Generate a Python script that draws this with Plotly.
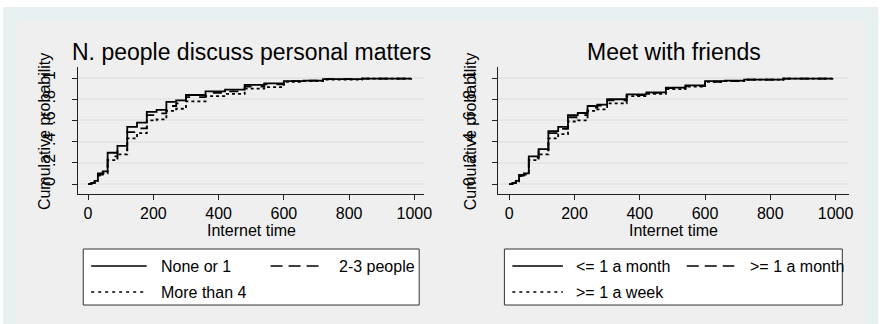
import plotly.graph_objects as go

# ---------------- data ----------------
time_steps = [0, 10, 20, 30, 45, 60, 90, 120, 150, 180, 210, 240, 270, 300,
              360, 420, 480, 540, 600, 660, 720, 840, 990]

# Left panel: N. people discuss personal matters
none_or_1 = [0.0, 0.01, 0.03, 0.10, 0.12, 0.295, 0.36, 0.54, 0.58, 0.68, 0.70, 0.775,
             0.79, 0.84, 0.875, 0.89, 0.935, 0.95, 0.97, 0.975, 0.99, 0.995, 1.0]
two_three = [0.0, 0.01, 0.025, 0.09, 0.11, 0.26, 0.32, 0.49, 0.525, 0.65, 0.667, 0.736,
             0.76, 0.82, 0.86, 0.875, 0.92, 0.94, 0.97, 0.975, 0.99, 0.995, 1.0]
more_than_4 = [0.0, 0.01, 0.02, 0.08, 0.10, 0.225, 0.28, 0.43, 0.48, 0.60, 0.61, 0.69,
               0.71, 0.78, 0.83, 0.85, 0.90, 0.915, 0.965, 0.97, 0.985, 0.995, 1.0]

# Right panel: Meet with friends
le_month = [0.0, 0.01, 0.03, 0.085, 0.10, 0.26, 0.33, 0.50, 0.54, 0.65, 0.67, 0.736,
            0.75, 0.80, 0.845, 0.865, 0.91, 0.93, 0.97, 0.975, 0.985, 0.995, 1.0]
ge_month = [0.0, 0.01, 0.028, 0.08, 0.095, 0.25, 0.32, 0.48, 0.52, 0.63, 0.65, 0.72,
            0.74, 0.79, 0.84, 0.86, 0.905, 0.925, 0.965, 0.97, 0.985, 0.995, 1.0]
ge_week = [0.0, 0.01, 0.025, 0.075, 0.09, 0.225, 0.28, 0.43, 0.47, 0.59, 0.60, 0.69,
           0.705, 0.76, 0.83, 0.85, 0.895, 0.92, 0.965, 0.97, 0.985, 0.995, 1.0]

left_names = ["None or 1", "2-3 people", "More than 4"]
right_names = ["<= 1 a month", ">= 1 a month", ">= 1 a week"]
titles = ["N. people discuss personal matters", "Meet with friends"]
x_ticks = [0, 200, 400, 600, 800, 1000]
y_ticks = [0, 0.2, 0.4, 0.6, 0.8, 1]
y_ticktext = ["0", ".2", ".4", ".6", ".8", "1"]
x_title = "Internet time"
y_title = "Cumulative probability"

# ---------------- figure ----------------
W, H = 886, 324
FONT = "Liberation Sans, Arial, Helvetica, sans-serif"
dashes = ["solid", "dash", "dot"]


def px(x):
    return x / W


def py(y):
    return 1 - y / H


fig = go.Figure()

panels = [
    ("x", "y", [none_or_1, two_three, more_than_4], left_names),
    ("x2", "y2", [le_month, ge_month, ge_week], right_names),
]
for xa, ya, series, names in panels:
    for s, name, d in zip(series, names, dashes):
        fig.add_trace(go.Scatter(
            x=time_steps, y=s, mode="lines", name=name, xaxis=xa, yaxis=ya,
            line=dict(color="black", width=1.8, dash=d, shape="hv"),
            showlegend=False, hoverinfo="skip"))

# plot-area geometry (pixels)
areas = [(79, 428, 67, 194), (503, 857, 67, 194)]
xranges = [[-30, 1030], [-33, 1042]]
yrange = [-0.094, 1.104]

axis_common = dict(showline=True, linecolor="#222", linewidth=1, ticks="outside",
                   ticklen=5, tickwidth=1, tickcolor="#222",
                   tickfont=dict(family=FONT, size=16, color="black"), zeroline=False)

layout = dict(
    width=W, height=H, margin=dict(l=0, r=0, t=0, b=0),
    paper_bgcolor="white", plot_bgcolor="white", showlegend=False,
    font=dict(family=FONT, color="black"),
)
for i, (x0, x1, y0, y1) in enumerate(areas):
    sfx = "" if i == 0 else "2"
    layout["xaxis" + sfx] = dict(domain=[px(x0), px(x1)], range=xranges[i],
                                 tickvals=x_ticks, showgrid=False,
                                 anchor="y" + sfx, **axis_common)
    layout["yaxis" + sfx] = dict(domain=[py(y1), py(y0)], range=yrange,
                                 tickvals=y_ticks, ticktext=y_ticktext, tickangle=-90,
                                 showgrid=True, gridcolor="#e6e6e6", gridwidth=1.5,
                                 anchor="x" + sfx, ticklabelstandoff=11, **axis_common)
fig.update_layout(**layout)

shapes = []
# outer light blue background and grey panel
shapes.append(dict(type="rect", xref="paper", yref="paper", x0=px(3), x1=1, y0=0, y1=py(7),
                   fillcolor="#e9f0f2", line=dict(width=0), layer="below"))
shapes.append(dict(type="rect", xref="paper", yref="paper", x0=px(17), x1=px(873), y0=0,
                   y1=py(20), fillcolor="#efefef", line=dict(width=0), layer="below"))

annotations = []
ytitle_x = [45, 475]
for i, (x0, x1, y0, y1) in enumerate(areas):
    cx = (x0 + x1) / 2
    annotations.append(dict(text=titles[i], x=px(cx), y=py(52), xref="paper", yref="paper",
                            showarrow=False, xanchor="center", yanchor="middle",
                            font=dict(family=FONT, size=23, color="black")))
    annotations.append(dict(text=x_title, x=px(cx), y=py(230), xref="paper", yref="paper",
                            showarrow=False, xanchor="center", yanchor="middle",
                            font=dict(family=FONT, size=16, color="black")))
    annotations.append(dict(text=y_title, x=px(ytitle_x[i]), y=py((y0 + y1) / 2 + 1),
                            xref="paper", yref="paper", textangle=-90,
                            showarrow=False, xanchor="center", yanchor="middle",
                            font=dict(family=FONT, size=16, color="black")))

# legends (boxes, samples, labels)
legend_boxes = [(84, 423), (509, 850)]
legend_items = [
    [(92, 148, 160, 266), (273, 322, 340, 266), (92, 148, 160, 292)],
    [(517, 568, 579, 266), (693, 741, 755, 266), (517, 568, 579, 292)],
]
dash_pat = ["solid", "12px,6px", "3px,4px"]
names_all = [left_names, right_names]
for i, (bx0, bx1) in enumerate(legend_boxes):
    shapes.append(dict(type="rect", xref="paper", yref="paper", x0=px(bx0), x1=px(bx1),
                       y0=py(305), y1=py(249), fillcolor="white",
                       line=dict(color="#333", width=1), layer="above"))
    for (lx0, lx1, tx, ly), nm, dp in zip(legend_items[i], names_all[i], dash_pat):
        shapes.append(dict(type="line", xref="paper", yref="paper", x0=px(lx0), x1=px(lx1),
                           y0=py(ly), y1=py(ly), line=dict(color="black", width=1.4, dash=dp),
                           layer="above"))
        annotations.append(dict(text=nm, x=px(tx), y=py(ly), xref="paper", yref="paper",
                                showarrow=False, xanchor="left", yanchor="middle",
                                font=dict(family=FONT, size=16, color="black")))

fig.update_layout(shapes=shapes, annotations=annotations)
fig.write_html("out.html")
